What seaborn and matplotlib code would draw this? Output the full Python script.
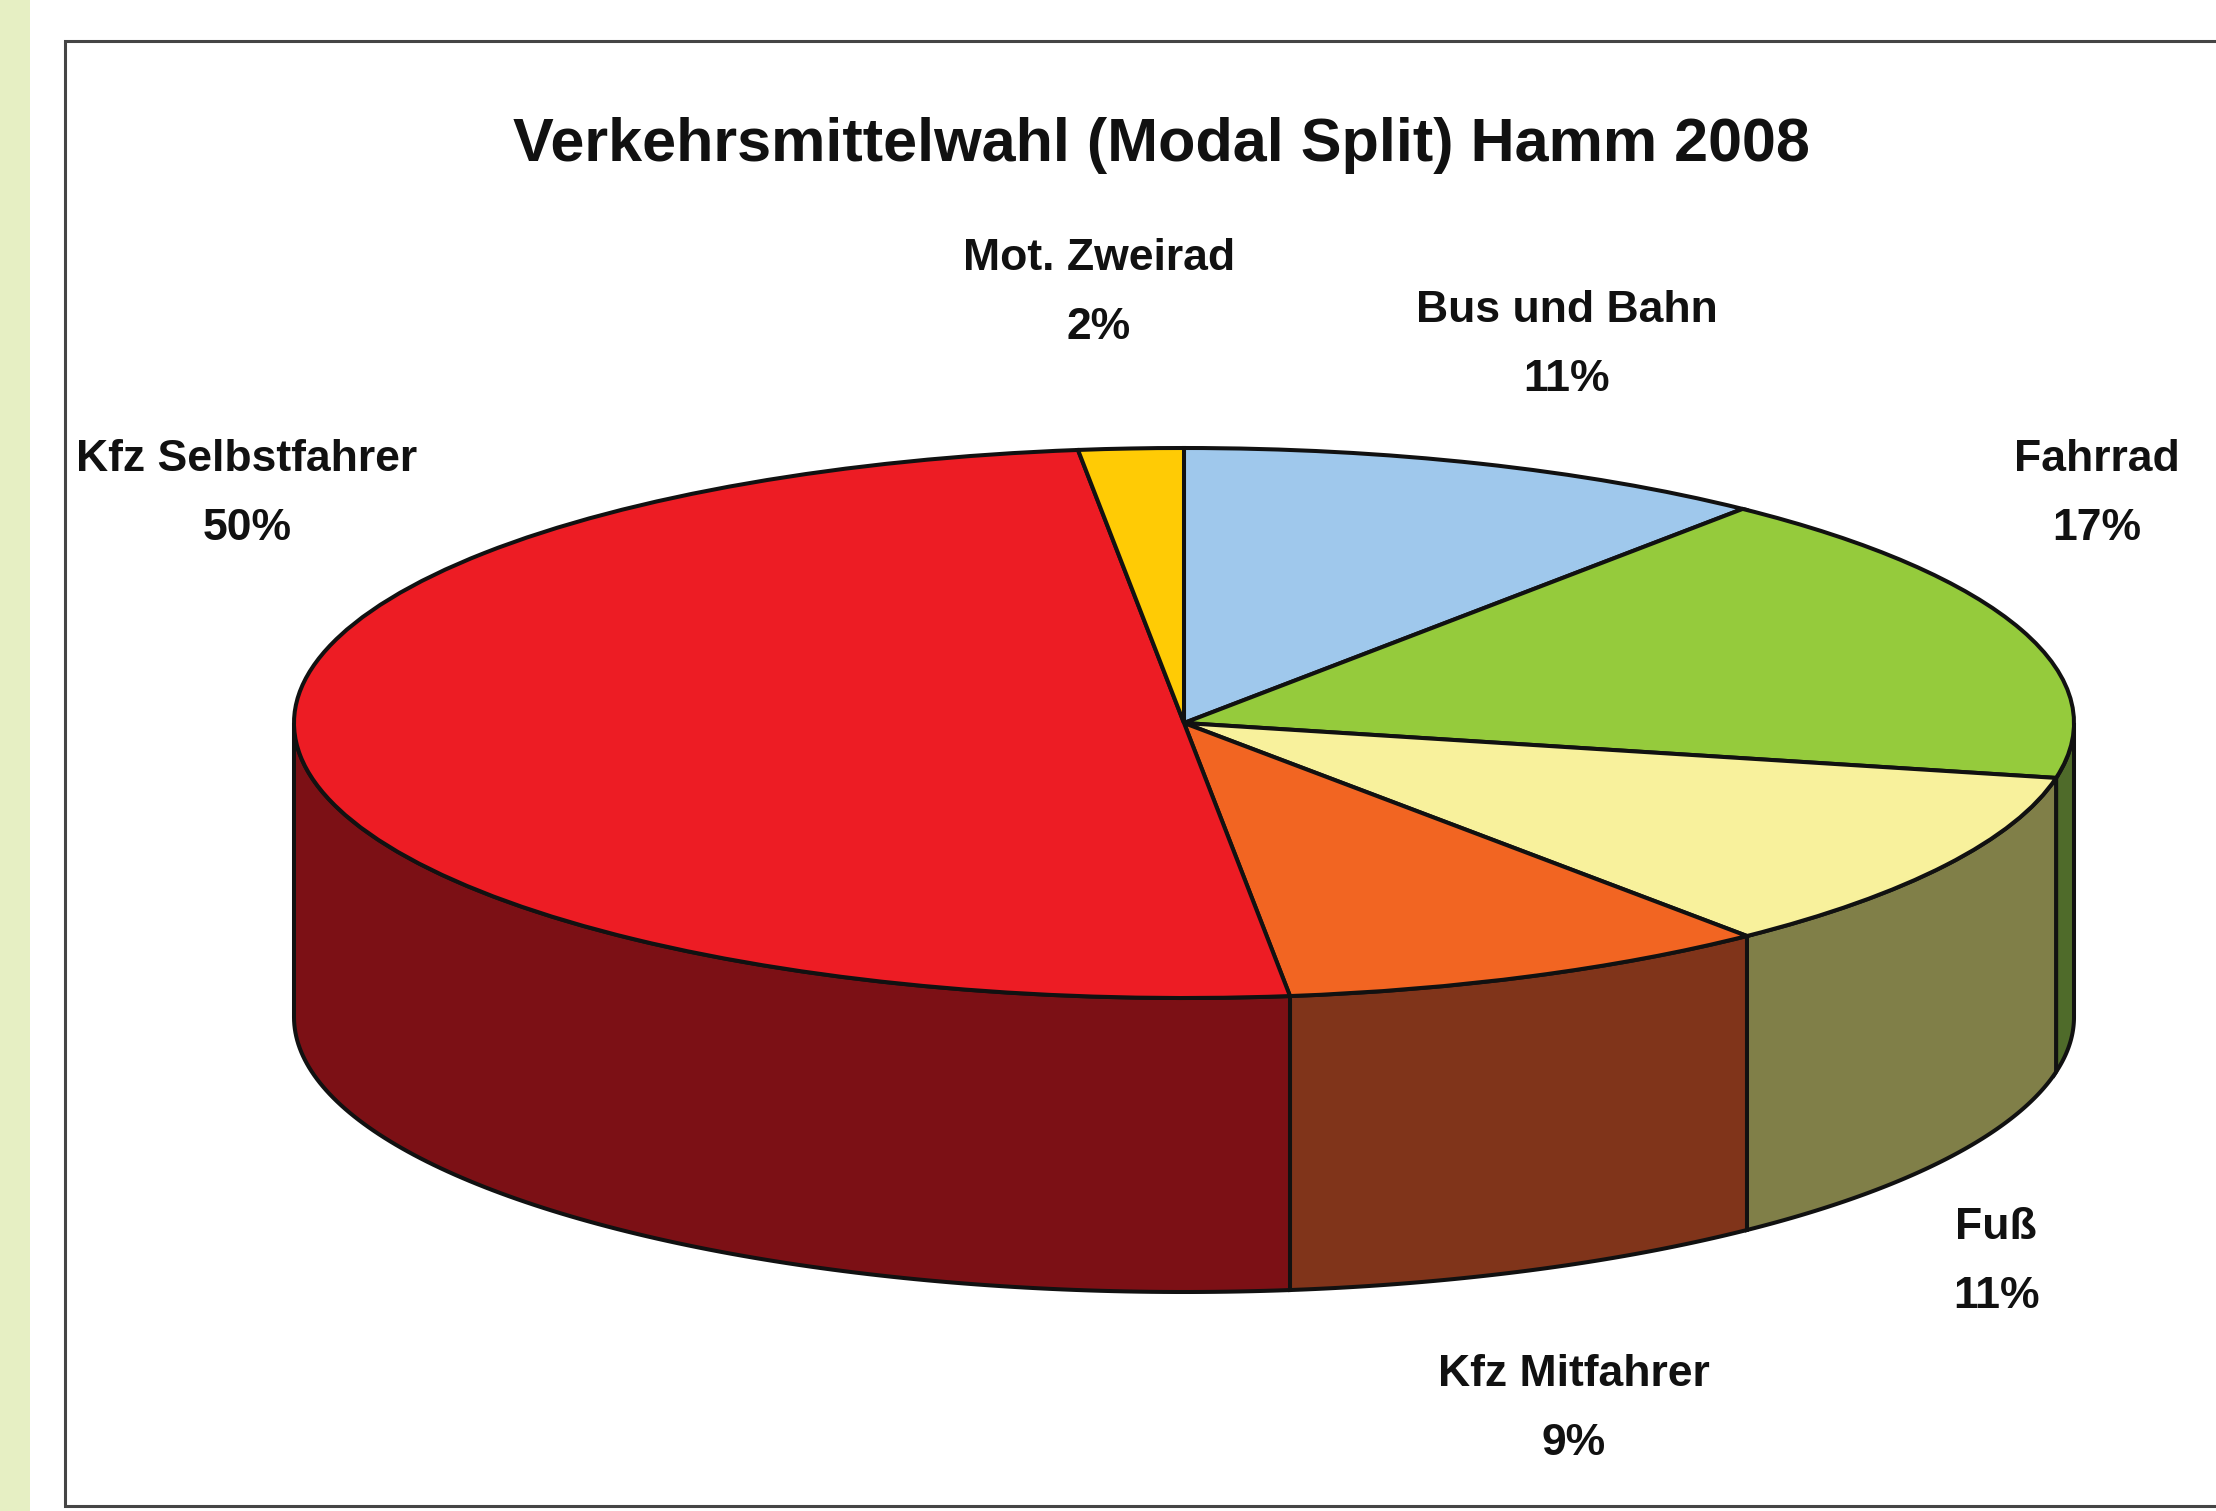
import numpy as np
import matplotlib
matplotlib.use('Agg')
import matplotlib.pyplot as plt
from matplotlib.patches import Rectangle
import seaborn as sns

titel = 'Verkehrsmittelwahl (Modal Split) Hamm 2008'
kategorien = ['Bus und Bahn', 'Fahrrad', 'Fuß', 'Kfz Mitfahrer', 'Kfz Selbstfahrer', 'Mot. Zweirad']
anteile = [10.8, 17.4, 10.9, 9.0, 50.0, 1.9]
farben_oben = ['#9fc8ec', '#95cb3c', '#f8f19c', '#f26522', '#ed1c24', '#ffcb05']
farben_seite = ['#4d6c8a', '#4f6b2a', '#807f48', '#80341a', '#7c1015', '#806400']

W, H = 2216, 1511
CX, CY, RX, RY, TIEFE = 1184, 723, 890, 275, 294
# Beschriftung: Mitte in Pixeln (x, y von oben)
label_pos = [(1567, 345), (2097, 494), (1996, 1262), (1574, 1409), (247, 494), (1099, 293)]


def main():
    sns.set_theme(style='white')
    plt.rcParams['font.family'] = ['Liberation Sans', 'DejaVu Sans']

    fig = plt.figure(figsize=(W / 100, H / 100), dpi=100, facecolor='white')
    fig.add_artist(Rectangle((0, 0), 30 / W, 1, transform=fig.transFigure, fc='#e6efc3', ec='none'))
    fig.add_artist(Rectangle((65 / W, 1 - 1506 / H), 1.0, (1506 - 41) / H, transform=fig.transFigure,
                             fc='white', ec='#454545', lw=2.2))

    ax = fig.add_axes([0, 0, 1, 1], facecolor='none', zorder=5)
    ax.pie(anteile, colors=sns.color_palette(farben_oben), startangle=90, counterclock=False,
           wedgeprops={'edgecolor': '#111111', 'linewidth': 2.9, 'zorder': 5})
    ax.set_aspect('auto')
    ax.set_xlim(-CX / RX, (W - CX) / RX)
    ax.set_ylim(-(H - CY) / RY, CY / RY)
    tiefe = TIEFE / RY

    # Seitenwand: nur der vordere Teil der Scheibe (90 bis 270 Grad im Uhrzeigersinn von oben)
    grenzen = np.cumsum([0] + anteile) * 3.6
    for i in range(len(anteile)):
        a = max(grenzen[i], 90)
        b = min(grenzen[i + 1], 270)
        if b <= a:
            continue
        t = np.radians(np.linspace(a, b, 120))
        x = np.sin(t)
        y = np.cos(t)
        ax.fill(np.r_[x, x[::-1]], np.r_[y, y[::-1] - tiefe], fc=farben_seite[i],
                ec='#111111', lw=2.9, zorder=2)

    sns.despine(ax=ax, left=True, bottom=True)

    ax.text(1161 / W, 1 - 146 / H, titel, transform=fig.transFigure, ha='center', va='center',
            fontsize=44, fontweight='bold', color='#111111')
    for name, wert, (px, py) in zip(kategorien, anteile, label_pos):
        ax.text(px / W, 1 - py / H, f'{name}\n{wert:.0f}%', transform=fig.transFigure, ha='center', va='center',
                fontsize=32, fontweight='bold', color='#111111', linespacing=1.87)

    fig.savefig('out.png', dpi=100)


if __name__ == '__main__':
    main()
